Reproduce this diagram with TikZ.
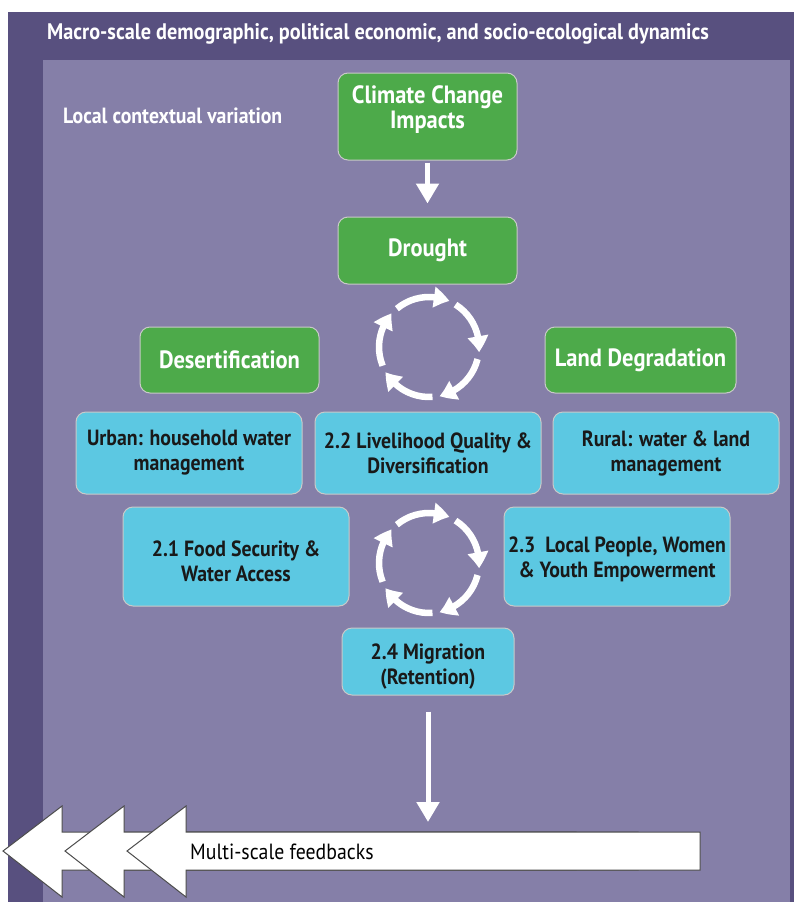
\documentclass[tikz,border=0pt]{standalone}
\usepackage{fontspec}
\setmainfont{PT Sans}[FakeStretch=0.9]
\usetikzlibrary{arrows.meta,bending}
\definecolor{framedark}{HTML}{58507F}
\definecolor{framelight}{HTML}{857FA8}
\definecolor{boxgreen}{HTML}{4DAA4A}
\definecolor{boxcyan}{HTML}{5CC8E2}
\definecolor{boxedge}{HTML}{C9C9C9}
% invisible struts that nudge a node's text up or down inside its box
\newcommand\tallline[1]{\rule{0pt}{#1}}
\newcommand\deepline[1]{\rule[-#1]{0pt}{1pt}}
\begin{document}
\begin{tikzpicture}[x=1pt,y=-1pt,
  box/.style={rounded corners=10pt, draw=boxedge, line width=1pt, align=center, inner sep=0pt},
  greenbox/.style={box, fill=boxgreen, text=white, font=\bfseries\fontsize{25}{25}\selectfont},
  cyanbox/.style={box, fill=boxcyan, text=black!90, font=\bfseries\fontsize{22}{25}\selectfont},
  bigarrow/.style={draw=white, line width=5pt, -{Triangle[width=22pt,length=20pt]}},
  cyclearrow/.style={draw=white, line width=6.5pt, -{Triangle[width=20pt,length=16pt,bend]}},
  feedback/.style={fill=white, draw=black!70, line width=1pt, line join=miter},
  label/.style={anchor=west, inner sep=0pt, text=white, font=\bfseries\fontsize{22.5}{24}\selectfont}
]
% frame layers
\fill[white] (0,0) rectangle (794,902);
\fill[framedark] (8,12) rectangle (794,902);
\fill[framelight] (43,60) rectangle (790,902);
\useasboundingbox (0,0) rectangle (794,902);

\node[label] (macro) at (47,34)
  {Macro-scale demographic, political economic, and socio-ecological dynamics};
\node[label, font=\bfseries\fontsize{22}{24}\selectfont] (local) at (63,116)
  {Local contextual variation};

% green boxes
\node[greenbox, minimum width=179pt, minimum height=87pt] (cc) at (427.5,116.5) {Climate Change\\Impacts\deepline{19pt}};
\node[greenbox, minimum width=179pt, minimum height=67pt] (dr) at (427.5,250.5) {Drought};
\node[greenbox, minimum width=179pt, minimum height=66pt] (de) at (229.5,360) {Desertification};
\node[greenbox, minimum width=191pt, minimum height=66pt] (ld) at (640.5,360) {Land Degradation};

% cyan boxes
\node[cyanbox, minimum width=226pt, minimum height=82pt] (ur) at (189,453) {Urban: household water\\management};
\node[cyanbox, minimum width=226pt, minimum height=82pt] (lq) at (428,453) {2.2 Livelihood Quality \&\\Diversification};
\node[cyanbox, minimum width=226pt, minimum height=82pt] (ru) at (666,453) {Rural: water \& land\\management};
\node[cyanbox, minimum width=226pt, minimum height=99pt] (fs) at (236,556.5) {\tallline{26pt}2.1 Food Security \&\\Water Access};
\node[cyanbox, minimum width=226pt, minimum height=99pt] (lp) at (617,556.5) {\tallline{22pt}2.3\ \ Local People, Women\\\& Youth Empowerment};
\node[cyanbox, minimum width=172pt, minimum height=67pt] (mg) at (428,661.5) {\tallline{26pt}2.4 Migration\\(Retention)};

% straight arrows
\draw[bigarrow] ([yshift=-2pt]cc.south) -- ([yshift=13pt]dr.north);
\coordinate (fbtip) at (428,822);
\draw[bigarrow] ([yshift=-16pt]mg.south) -- (fbtip);

% circular arrow rings
\coordinate (c1) at (429,347);
\coordinate (c2) at (429,563);
\foreach \c in {c1,c2}
  \foreach \a/\b in {-130/-66, -58/6, 14/78, 86/150, 158/222}
    \draw[cyclearrow] (\c) ++(\a:50) arc[start angle=\a, end angle=\b, radius=50];

% multi-scale feedback arrows
\foreach \t in {3,65,127}
  \draw[feedback] (\t,851) -- (\t+59,806) -- (\t+59,832) -- (\t+573,832) -- (\t+573,870)
    -- (\t+59,870) -- (\t+59,897) -- cycle;
\node[anchor=west, inner sep=0pt, text=black, font=\fontsize{22}{24}\selectfont] (fb) at (190,852) {Multi-scale feedbacks};
\end{tikzpicture}
\end{document}
